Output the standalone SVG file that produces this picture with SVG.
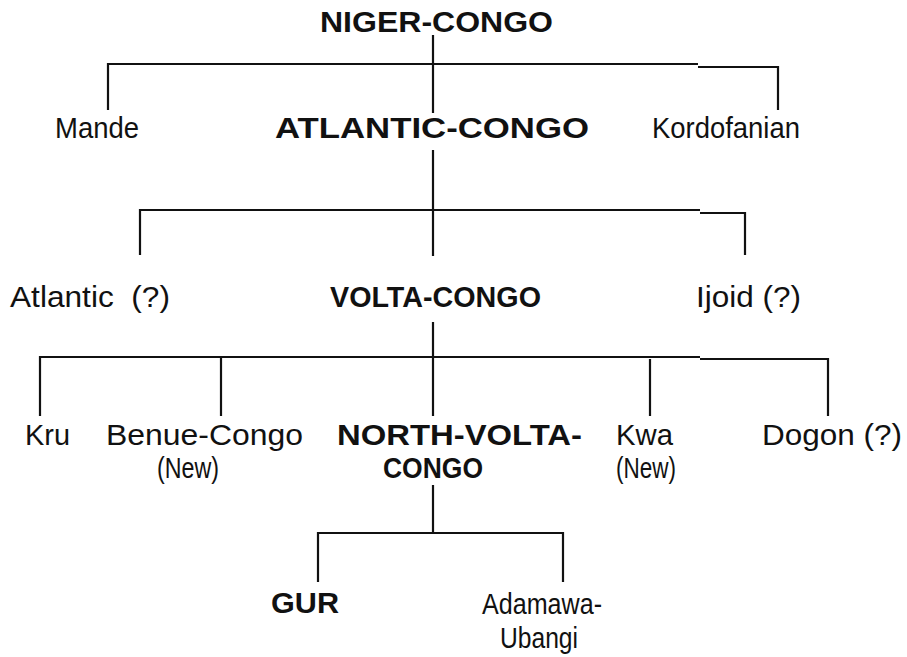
<svg xmlns="http://www.w3.org/2000/svg" width="907" height="657" viewBox="0 0 907 657">
<style>
text{font-family:"Liberation Sans",Arial,sans-serif;font-size:29px;fill:#111}
.b{font-weight:bold}
.c line,.c polyline{stroke:#111;stroke-width:2.2;fill:none}
</style>
<rect width="907" height="657" fill="#fff"/>
<g class="c" id="connectors">
<line x1="433" y1="35" x2="433" y2="113"/>
<polyline points="108,110 108,64 698,64"/>
<polyline points="698,67 778,67 778,110"/>
<line x1="433" y1="150" x2="433" y2="256"/>
<polyline points="140,255 140,210 700,210"/>
<polyline points="700,213 745,213 745,255"/>
<line x1="433" y1="322" x2="433" y2="416"/>
<polyline points="40,416 40,357 700,357"/>
<polyline points="700,359 828,359 828,416"/>
<line x1="221" y1="357" x2="221" y2="416"/>
<line x1="650" y1="359" x2="650" y2="416"/>
<line x1="433" y1="485" x2="433" y2="533"/>
<polyline points="318,582 318,533 563,533 563,582"/>
</g>
<g id="niger-congo"><text class="b" x="320" y="32" textLength="233" lengthAdjust="spacingAndGlyphs">NIGER-CONGO</text></g>
<g id="mande"><text x="55" y="138" textLength="84" lengthAdjust="spacingAndGlyphs">Mande</text></g>
<g id="atlantic-congo"><text class="b" x="275" y="138" textLength="314" lengthAdjust="spacingAndGlyphs">ATLANTIC-CONGO</text></g>
<g id="kordofanian"><text x="652" y="138" textLength="148" lengthAdjust="spacingAndGlyphs">Kordofanian</text></g>
<g id="atlantic"><text x="10" y="307" textLength="160" lengthAdjust="spacingAndGlyphs" xml:space="preserve">Atlantic  (?)</text></g>
<g id="volta-congo"><text class="b" x="330" y="307" textLength="211" lengthAdjust="spacingAndGlyphs">VOLTA-CONGO</text></g>
<g id="ijoid"><text x="696" y="307" textLength="105" lengthAdjust="spacingAndGlyphs">Ijoid (?)</text></g>
<g id="kru"><text x="25" y="445" textLength="45" lengthAdjust="spacingAndGlyphs">Kru</text></g>
<g id="benue-congo"><text x="106" y="445" textLength="197" lengthAdjust="spacingAndGlyphs">Benue-Congo</text><text x="157" y="478" textLength="62" lengthAdjust="spacingAndGlyphs">(New)</text></g>
<g id="north-volta-congo"><text class="b" x="337" y="445" textLength="245" lengthAdjust="spacingAndGlyphs">NORTH-VOLTA-</text><text class="b" x="383" y="478" textLength="100" lengthAdjust="spacingAndGlyphs">CONGO</text></g>
<g id="kwa"><text x="616" y="445" textLength="57" lengthAdjust="spacingAndGlyphs">Kwa</text><text x="616" y="478" textLength="60" lengthAdjust="spacingAndGlyphs">(New)</text></g>
<g id="dogon"><text x="762" y="445" textLength="140" lengthAdjust="spacingAndGlyphs">Dogon (?)</text></g>
<g id="gur"><text class="b" x="271" y="613" textLength="68" lengthAdjust="spacingAndGlyphs">GUR</text></g>
<g id="adamawa-ubangi"><text x="482" y="614" textLength="120" lengthAdjust="spacingAndGlyphs">Adamawa-</text><text x="500" y="648" textLength="78" lengthAdjust="spacingAndGlyphs">Ubangi</text></g>
</svg>
